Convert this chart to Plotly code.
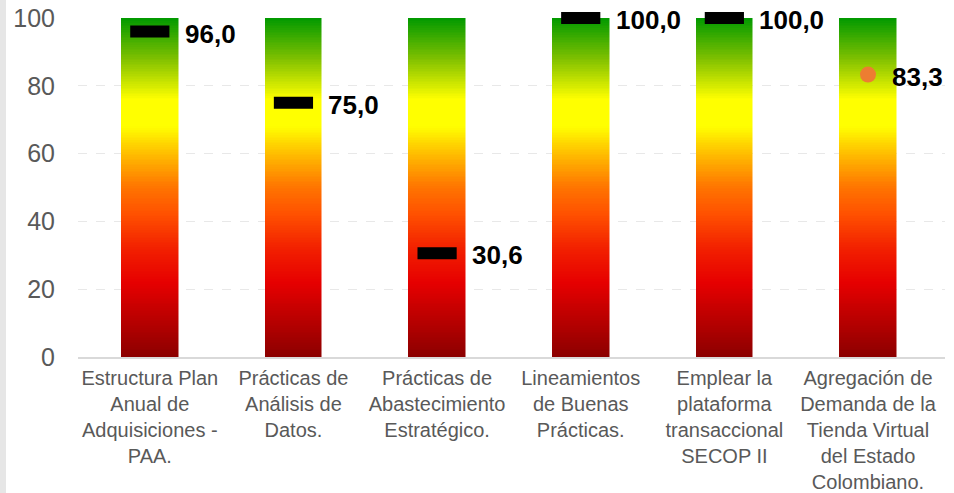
import numpy as np
import plotly.graph_objects as go

# ---------------- data ----------------
categories = [
    "Estructura Plan<br>Anual de<br>Adquisiciones -<br>PAA.",
    "Prácticas de<br>Análisis de<br>Datos.",
    "Prácticas de<br>Abastecimiento<br>Estratégico.",
    "Lineamientos<br>de Buenas<br>Prácticas.",
    "Emplear la<br>plataforma<br>transaccional<br>SECOP II",
    "Agregación de<br>Demanda de la<br>Tienda Virtual<br>del Estado<br>Colombiano.",
]
scores = [96.0, 75.0, 30.6, 100.0, 100.0, 83.3]
marker_kinds = ["dash", "dash", "dash", "dash", "dash", "dot"]
y_ticks = [0, 20, 40, 60, 80, 100]
scale_max = 100

# ---------------- layout constants ----------------
W, H = 954, 493
ML, MR, MT, MB = 78, 9, 18, 136
PW, PH = W - ML - MR, H - MT - MB
FONT = "Arial, 'Liberation Sans', sans-serif"

gauge_colors = [
    [0.00, "#8B0000"],
    [0.10, "#B50000"],
    [0.22, "#E60000"],
    [0.32, "#F22000"],
    [0.42, "#FF5000"],
    [0.50, "#FF7400"],
    [0.60, "#FFBE00"],
    [0.68, "#FFFF00"],
    [0.76, "#FFFF00"],
    [0.88, "#7FC000"],
    [1.00, "#009900"],
]

fig = go.Figure()

# gradient gauge columns (full scale) drawn as a heatmap
levels = np.arange(0.25, scale_max, 0.5)
z = [[lv] * len(categories) for lv in levels]
cell_w = PW / len(categories)
bar_w = 58
fig.add_trace(go.Heatmap(
    x=categories, y=levels, z=z,
    colorscale=gauge_colors, zmin=0, zmax=scale_max,
    showscale=False, xgap=cell_w - bar_w, ygap=0,
    hoverinfo="skip",
))

dash_x = [c for c, k in zip(categories, marker_kinds) if k == "dash"]
dash_y = [v for v, k in zip(scores, marker_kinds) if k == "dash"]
dot_x = [c for c, k in zip(categories, marker_kinds) if k == "dot"]
dot_y = [v for v, k in zip(scores, marker_kinds) if k == "dot"]

fig.add_trace(go.Scatter(
    x=dash_x, y=dash_y, mode="markers", cliponaxis=False,
    marker=dict(symbol="line-ew", size=28, color="black",
                line=dict(width=12, color="black")),
    hoverinfo="skip",
))
fig.add_trace(go.Scatter(
    x=dot_x, y=dot_y, mode="markers", cliponaxis=False,
    marker=dict(symbol="circle", size=16, color="#ED7D31",
                line=dict(width=0)),
    hoverinfo="skip",
))

for c, v, k in zip(categories, scores, marker_kinds):
    fig.add_annotation(
        x=c, y=v, text="<b>" + f"{v:.1f}".replace(".", ",") + "</b>",
        showarrow=False, xanchor="left", yanchor="middle",
        xshift=33 if k == "dash" else 22, yshift=-2,
        font=dict(family=FONT, size=26, color="black"),
    )

# left grey strip
fig.add_shape(type="rect", xref="paper", yref="paper",
              x0=-ML / PW, x1=(6 - ML) / PW, y0=-MB / PH, y1=1 + MT / PH,
              fillcolor="#E6E6E6", line=dict(width=0), layer="below")

fig.update_layout(
    width=W, height=H,
    margin=dict(l=ML, r=MR, t=MT, b=MB, pad=0, autoexpand=False),
    paper_bgcolor="white", plot_bgcolor="white",
    showlegend=False,
    font=dict(family=FONT, color="#595959"),
    xaxis=dict(
        showgrid=False, ticks="", zeroline=False, automargin=False,
        showline=True, linecolor="#D9D9D9", linewidth=2,
        tickfont=dict(family=FONT, size=20, color="#595959"),
        ticklabelstandoff=2,
    ),
    yaxis=dict(
        range=[0, scale_max], tickvals=y_ticks, ticks="", automargin=False,
        showgrid=True, gridcolor="#E8E8E8", griddash="dash", gridwidth=1,
        zeroline=False, showline=False,
        tickfont=dict(family=FONT, size=25, color="#595959"),
        ticklabelstandoff=22,
    ),
)

fig.write_html(
    "out.html",
    config={"displayModeBar": False},
    post_script="document.body.style.margin='0px';document.body.style.overflow='hidden';",
)
